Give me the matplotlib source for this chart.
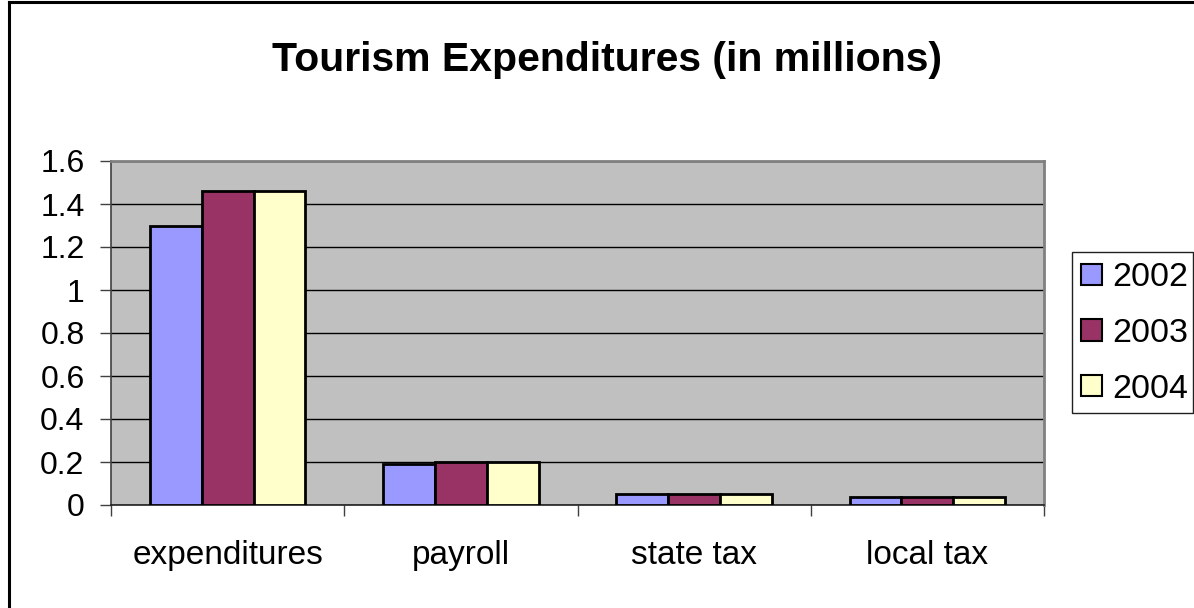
import numpy as np
import matplotlib
matplotlib.use("Agg")
import matplotlib.pyplot as plt
from matplotlib.lines import Line2D
from matplotlib.patches import Rectangle

plt.rcParams['font.family'] = ['Liberation Sans', 'DejaVu Sans']

categories = ["expenditures", "payroll", "state tax", "local tax"]
years = ["2002", "2003", "2004"]
values_2002 = [1.30, 0.19, 0.05, 0.037]
values_2003 = [1.46, 0.20, 0.05, 0.037]
values_2004 = [1.46, 0.20, 0.05, 0.037]
y_ticks = [0, 0.2, 0.4, 0.6, 0.8, 1, 1.2, 1.4, 1.6]
y_tick_labels = ["0", "0.2", "0.4", "0.6", "0.8", "1", "1.2", "1.4", "1.6"]
colors = ["#9999FF", "#993366", "#FFFFCC"]

W, H = 1194, 608
fig = plt.figure(figsize=(W / 100, H / 100), dpi=100)
fig.patch.set_facecolor("white")

# plot area in pixel coordinates
left, right, top, bottom = 111, 1044, 161, 505
ax = fig.add_axes([left / W, 1 - bottom / H, (right - left) / W, (bottom - top) / H])
ax.set_facecolor("#C0C0C0")

series = [values_2002, values_2003, values_2004]
x = np.arange(len(categories))
bar_w = 1 / 4.5
for i, (vals, col, yr) in enumerate(zip(series, colors, years)):
    ax.bar(x + (i - 1) * bar_w, vals, width=bar_w, color=col,
           edgecolor="black", linewidth=2.0, label=yr, zorder=3)

ax.set_xlim(-0.5, len(categories) - 0.5)
ax.set_ylim(0, 1.6)
ax.set_yticks(y_ticks)
ax.set_yticklabels(y_tick_labels, fontsize=23)
ax.yaxis.grid(True, color="black", linewidth=1.0, zorder=1)
ax.set_axisbelow(True)

# category ticks sit on the boundaries between groups
ax.set_xticks(np.arange(len(categories) + 1) - 0.5)
ax.set_xticklabels([])
ax.set_xticks(x, minor=True)
ax.set_xticklabels(categories, minor=True, fontsize=24)
ax.tick_params(axis="x", which="major", direction="out", length=8, width=1, color="#404040")
ax.tick_params(axis="x", which="minor", length=0, pad=25)
ax.tick_params(axis="y", direction="out", length=8, width=1, color="#404040", pad=11)

for side in ["top", "right"]:
    ax.spines[side].set_color("#808080")
    ax.spines[side].set_linewidth(2)
ax.spines["left"].set_color("#404040")
ax.spines["left"].set_linewidth(1.2)
ax.spines["bottom"].set_color("#202020")
ax.spines["bottom"].set_linewidth(1.2)

# title
fig.text(607 / W, 1 - 60 / H, "Tourism Expenditures (in millions)",
         ha="center", va="center", fontsize=29.5, fontweight="bold")

# legend box
lx0, lx1, ly0, ly1 = 1072, 1193, 252, 413
fig.add_artist(Rectangle((lx0 / W, 1 - ly1 / H), (lx1 - lx0) / W, (ly1 - ly0) / H,
                         transform=fig.transFigure, facecolor="white",
                         edgecolor="#202020", linewidth=1.0))
handles = [Rectangle((0, 0), 1, 1, facecolor=c, edgecolor="black", linewidth=1.5)
           for c in colors]
leg = fig.legend(handles, years, loc="center",
                 bbox_to_anchor=((lx0 + lx1) / 2 / W + 2 / W, 1 - (ly0 + ly1 + 2) / 2 / H),
                 fontsize=24.5, frameon=False,
                 handlelength=0.6, handleheight=0.6, handletextpad=0.3,
                 labelspacing=0.72, borderpad=0, borderaxespad=0)

# chart-area border (left and top edges)
fig.add_artist(Line2D([8.5 / W, 8.5 / W], [0, 1 - 2 / H], transform=fig.transFigure,
                      color="black", linewidth=2.2))
fig.add_artist(Line2D([8.5 / W, 1], [1 - 2 / H, 1 - 2 / H], transform=fig.transFigure,
                      color="black", linewidth=2.2))

fig.savefig("out.png", dpi=100, facecolor="white")
